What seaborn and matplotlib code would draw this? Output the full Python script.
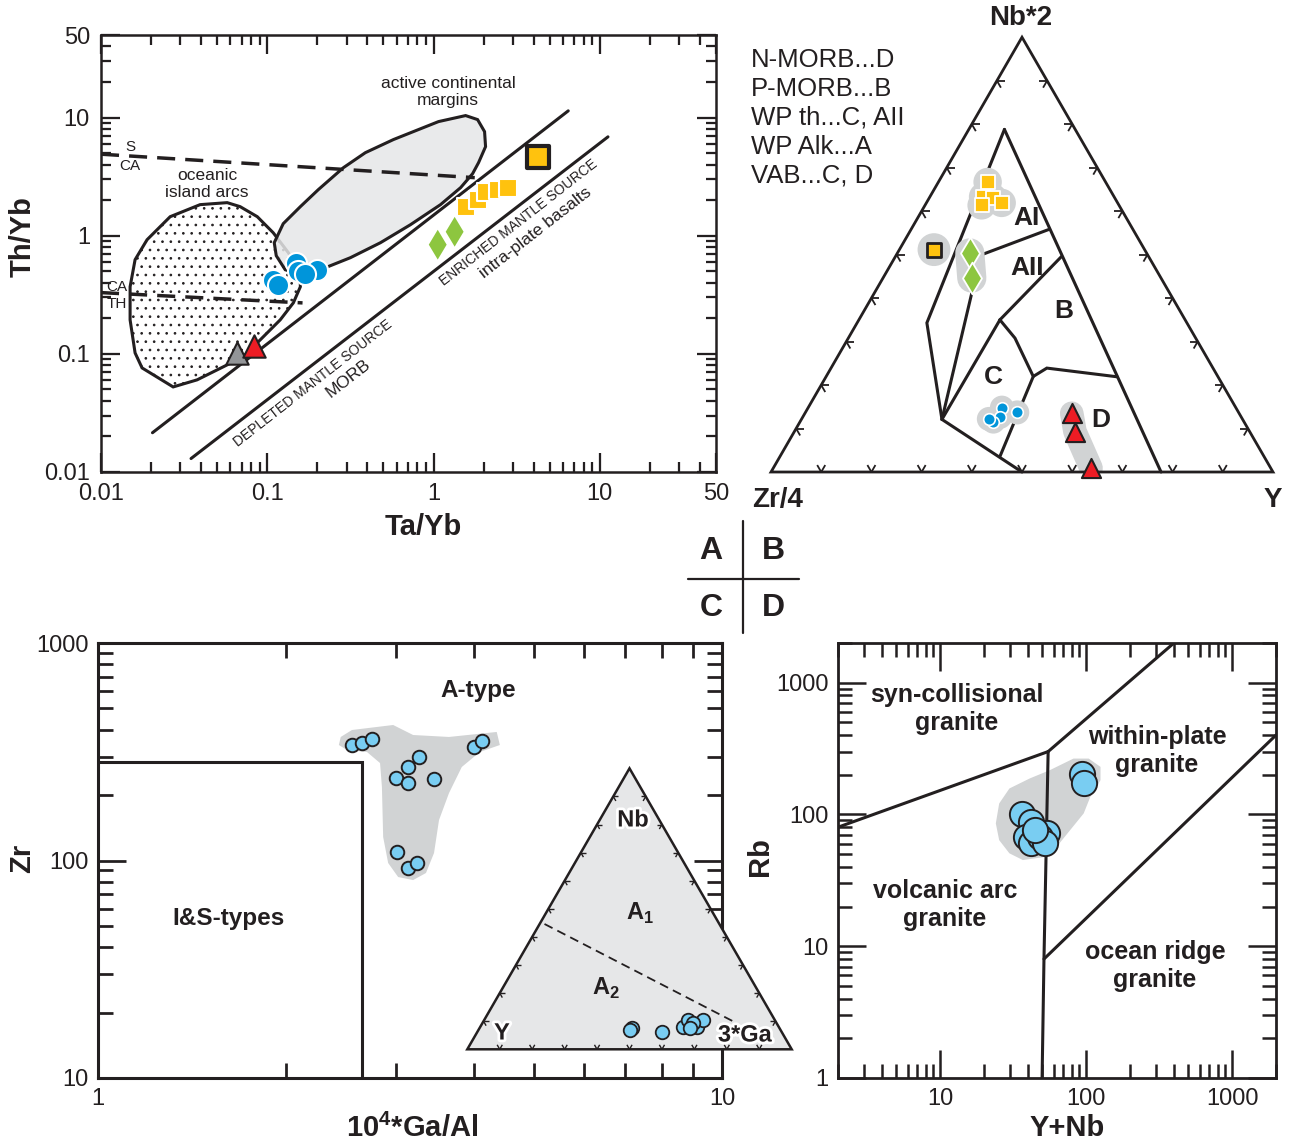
import numpy as np
import matplotlib
matplotlib.use('Agg')
import matplotlib.pyplot as plt
import seaborn as sns
from matplotlib.patches import Polygon
from matplotlib.lines import Line2D
import matplotlib.patheffects as pe
from matplotlib.ticker import LogLocator, NullFormatter, FixedLocator, FixedFormatter

sns.set_style('ticks')
plt.rcParams['font.family'] = ['Liberation Sans', 'DejaVu Sans']
plt.rcParams['mathtext.fontset'] = 'custom'
plt.rcParams['mathtext.rm'] = 'Liberation Sans'
plt.rcParams['mathtext.bf'] = 'Liberation Sans:bold'
plt.rcParams['hatch.linewidth'] = 0.7

# ------------------------------------------------------------------ DATA
# Panel A : Th/Yb vs Ta/Yb
a_blue_ta = [0.148, 0.109, 0.116, 0.154, 0.200, 0.169]
a_blue_th = [0.59, 0.42, 0.385, 0.50, 0.51, 0.47]
a_yel_ta = [1.56, 1.84, 2.06, 2.43, 2.79]
a_yel_th = [1.76, 2.02, 2.36, 2.45, 2.55]
a_yelbig_ta = [4.24]
a_yelbig_th = [4.67]
a_grn_ta = [1.06, 1.34]
a_grn_th = [0.84, 1.08]
a_red_ta = [0.0836]
a_red_th = [0.117]
a_gry_ta = [0.066]
a_gry_th = [0.102]
# field outlines (log10 units)
a_arc_lx = [-1.241, -1.404, -1.584, -1.723, -1.795, -1.825, -1.825, -1.795, -1.753, -1.566, -1.422,
            -1.265, -1.145, -1.042, -0.922, -0.843, -0.801, -0.801, -0.873, -0.964, -1.060, -1.163]
a_arc_ly = [0.280, 0.263, 0.161, -0.034, -0.203, -0.432, -0.712, -0.992, -1.119, -1.280, -1.220,
            -1.110, -1.025, -0.881, -0.712, -0.568, -0.432, -0.314, -0.144, 0.025, 0.161, 0.246]
a_acm_lx = [-0.946, -0.958, -0.904, -0.801, -0.693, -0.542, -0.410, -0.241, 0.030, 0.193, 0.265, 0.307,
            0.313, 0.271, 0.235, 0.163, 0.042, -0.139, -0.319, -0.500, -0.651, -0.801, -0.892]
a_acm_ly = [-0.169, -0.059, 0.102, 0.246, 0.390, 0.576, 0.703, 0.814, 0.966, 1.017, 0.983, 0.881,
            0.754, 0.619, 0.525, 0.407, 0.263, 0.093, -0.059, -0.186, -0.271, -0.331, -0.288]
a_up_ta = [0.0204, 6.46]
a_up_th = [0.0215, 11.4]
a_lo_ta = [0.0348, 11.2]
a_lo_th = [0.0130, 6.87]
a_sca_ta = [0.01, 1.77]
a_sca_th = [4.9, 3.1]
a_cath_ta = [0.01, 0.163]
a_cath_th = [0.33, 0.27]

# Panel B : Nb*2 - Zr/4 - Y ternary (percent)
b_left_nb = [78.8, 34.3, 12.1, 0.0]
b_left_zr = [14.1, 51.8, 59.9, 50.0]
b_left_y = [7.1, 13.9, 28.0, 50.0]
b_right_nb = [78.8, 0.0]
b_right_zr = [14.1, 22.3]
b_right_y = [7.1, 77.7]
b_ai_nb = [55.8, 50.0, 47.3, 12.1]
b_ai_zr = [16.9, 33.0, 35.1, 59.9]
b_ai_y = [27.4, 17.0, 17.6, 28.0]
b_aiib_nb = [49.6, 35.0]
b_aiib_zr = [17.3, 36.9]
b_aiib_y = [33.1, 28.1]
b_cl_nb = [35.0, 12.1]
b_cl_zr = [36.9, 59.9]
b_cl_y = [28.1, 28.0]
b_cr_nb = [35.0, 30.8, 22.0, 3.7]
b_cr_zr = [36.9, 36.0, 36.8, 52.5]
b_cr_y = [28.1, 33.2, 41.3, 43.8]
b_bd_nb = [22.0, 23.9, 21.9]
b_bd_zr = [36.8, 33.1, 20.1]
b_bd_y = [41.3, 43.0, 58.0]
b_yel_nb = [66.7, 63.3, 63.1, 61.9, 61.4]
b_yel_zr = [23.5, 26.1, 24.3, 23.1, 27.4]
b_yel_y = [9.8, 10.6, 12.6, 15.0, 11.3]
b_yelbig_nb = [51.2]
b_yelbig_zr = [42.0]
b_yelbig_y = [6.9]
b_grn_nb = [50.4, 44.6]
b_grn_zr = [35.2, 37.7]
b_grn_y = [14.4, 17.7]
b_blue_nb = [14.8, 12.7, 13.7, 11.6, 12.2]
b_blue_zr = [46.6, 48.0, 44.1, 49.9, 50.5]
b_blue_y = [38.6, 39.3, 42.2, 38.5, 37.3]
b_red_nb = [13.5, 9.3, 0.9]
b_red_zr = [33.3, 34.8, 35.8]
b_red_y = [53.1, 55.9, 63.3]
b_legend = ['N-MORB...D', 'P-MORB...B', 'WP th...C, AII', 'WP Alk...A', 'VAB...C, D']

# Panel C : Zr vs 10^4*Ga/Al
c_gaal = [2.55, 2.65, 2.75, 3.27, 3.14, 3.00, 3.14, 3.46, 4.01, 4.13, 3.01, 3.14, 3.25]
c_zr = [340, 346, 362, 298, 270, 240, 228, 236, 334, 355, 109, 92, 97]
c_box_gaal = 2.65
c_box_zr = 284
c_field_lx = [0.389, 0.407, 0.473, 0.505, 0.5625, 0.639, 0.644, 0.612, 0.583, 0.5625, 0.5465, 0.5385,
              0.5256, 0.505, 0.481, 0.465, 0.457, 0.455, 0.452, 0.431, 0.399, 0.386]
c_field_ly = [2.568, 2.600, 2.623, 2.577, 2.568, 2.591, 2.531, 2.499, 2.430, 2.310, 2.186, 2.0345,
              1.9425, 1.910, 1.924, 1.9885, 2.108, 2.338, 2.448, 2.499, 2.508, 2.531]
# inset ternary Nb - Y - 3*Ga (percent)
i_nb = [7.5, 6.9, 6.3, 8.1, 10.5, 8.1, 10.5, 9.3, 7.5]
i_y = [45.6, 46.2, 36.9, 29.4, 26.6, 25.2, 22.2, 25.7, 27.6]
i_ga = [46.9, 46.8, 56.8, 62.5, 62.9, 66.7, 67.3, 65.0, 64.9]
i_div_nb = [44.6, 9.3]
i_div_y = [53.9, 12.3]
i_div_ga = [1.5, 78.4]

# Panel D : Rb vs Y+Nb
d_ynb = [93.8, 97.3, 36.5, 42.2, 53.6, 38.9, 42.2, 48.2, 52.3, 45.0]
d_rb = [202, 172, 100, 87.4, 71.8, 67.6, 60.3, 66.9, 60.3, 76]
d_l1_x, d_l1_y = [2, 55], [80, 300]
d_l2_x, d_l2_y = [55, 400], [300, 2000]
d_l3_x, d_l3_y = [55, 51.5, 50], [300, 8, 1]
d_l4_x, d_l4_y = [51.5, 2000], [8, 400]
d_field_lx = [1.405, 1.475, 1.614, 1.752, 1.914, 2.018, 2.099, 2.099, 2.029, 1.984, 1.891, 1.799,
              1.729, 1.567, 1.475, 1.405, 1.382]
d_field_ly = [2.083, 2.197, 2.273, 2.336, 2.424, 2.424, 2.361, 2.260, 2.133, 2.008, 1.881, 1.755,
              1.679, 1.654, 1.705, 1.805, 1.932]

# ------------------------------------------------------------------ STYLE
K = '#231F20'
GRAYF = '#E6E7E8'
GRAYH = '#D1D3D4'
BLUE = '#0095DA'
LBLUE = '#79CDF2'
YEL = '#FFC20E'
GRN = '#8DC63F'
RED = '#ED1C24'
GTRI = '#939598'

W, H = 1290, 1143
fig = plt.figure(figsize=(W / 100, H / 100), dpi=100)


def rect(l, t, r, b):
    return [l / W, 1 - b / H, (r - l) / W, (b - t) / H]


def ftext(x, y, s, **kw):
    kw.setdefault('ha', 'center')
    kw.setdefault('va', 'center')
    kw.setdefault('color', K)
    fig.text(x / W, 1 - y / H, s, **kw)


SQ3 = np.sqrt(3) / 2


def tern(top, left, right):
    top = np.asarray(top, float)
    left = np.asarray(left, float)
    right = np.asarray(right, float)
    s = top + left + right
    return right / s + top / s / 2, top / s * SQ3


def tern_ticks(ax, L, lw):
    for i in range(1, 10):
        f = i / 10
        for (x0, y0), angs in [((f, 0.0), (60, 120)),
                               ((f / 2, f * SQ3), (0, -60)),
                               ((1 - f / 2, f * SQ3), (180, 240))]:
            for a in angs:
                r = np.deg2rad(a)
                ax.plot([x0, x0 + L * np.cos(r)], [y0, y0 + L * np.sin(r)],
                        color=K, lw=lw, solid_capstyle='butt', zorder=3)


def style_log(ax, xlim, ylim, xmaj, xlab, ymaj, ylab, majlen, minlen, lw, pad):
    ax.set_xscale('log')
    ax.set_yscale('log')
    ax.set_xlim(*xlim)
    ax.set_ylim(*ylim)
    ax.xaxis.set_major_locator(FixedLocator(xmaj))
    ax.xaxis.set_major_formatter(FixedFormatter(xlab))
    ax.yaxis.set_major_locator(FixedLocator(ymaj))
    ax.yaxis.set_major_formatter(FixedFormatter(ylab))
    for axis in (ax.xaxis, ax.yaxis):
        axis.set_minor_locator(LogLocator(base=10, subs=np.arange(2, 10), numticks=20))
        axis.set_minor_formatter(NullFormatter())
    ax.tick_params(which='both', direction='in', top=True, right=True, width=lw * 0.9,
                   color=K, labelsize=17, labelcolor=K, pad=pad)
    ax.tick_params(which='major', length=majlen)
    ax.tick_params(which='minor', length=minlen)
    for sp in ax.spines.values():
        sp.set_linewidth(lw)
        sp.set_color(K)
    ax.set_xlabel('')
    ax.set_ylabel('')


# ------------------------------------------------------------------ PANEL A
axA = fig.add_axes(rect(101, 35, 716, 472))
axA.set_xscale('log')
axA.set_yscale('log')
arc = Polygon(np.column_stack([10 ** np.array(a_arc_lx), 10 ** np.array(a_arc_ly)]), closed=True,
              facecolor='white', edgecolor=K, lw=2.2, hatch='..', zorder=1)
axA.add_patch(arc)
acm_xy = np.column_stack([10 ** np.array(a_acm_lx), 10 ** np.array(a_acm_ly)])
axA.add_patch(Polygon(acm_xy, closed=True, facecolor=GRAYF, edgecolor='none', alpha=0.85, zorder=2))
axA.add_patch(Polygon(acm_xy, closed=True, fill=False, edgecolor=K, lw=2.2, zorder=3))
axA.plot(a_up_ta, a_up_th, color=K, lw=2.2, zorder=3)
axA.plot(a_lo_ta, a_lo_th, color=K, lw=2.2, zorder=3)
axA.plot(a_sca_ta, a_sca_th, color=K, lw=2.5, ls=(0, (5.2, 2.9)), zorder=3)
axA.plot(a_cath_ta, a_cath_th, color=K, lw=2.5, ls=(0, (5.2, 2.9)), zorder=3)

sns.scatterplot(x=a_gry_ta, y=a_gry_th, ax=axA, marker='^', s=260, color=GTRI, edgecolor=K, linewidth=1.5, zorder=5)
sns.scatterplot(x=a_red_ta, y=a_red_th, ax=axA, marker='^', s=260, color=RED, edgecolor=K, linewidth=1.5, zorder=5)
sns.scatterplot(x=a_blue_ta, y=a_blue_th, ax=axA, marker='o', s=230, color=BLUE, edgecolor='white', linewidth=1.5, zorder=5)
sns.scatterplot(x=a_yel_ta, y=a_yel_th, ax=axA, marker='s', s=160, color=YEL, edgecolor='white', linewidth=1.5, zorder=5)
sns.scatterplot(x=a_yelbig_ta, y=a_yelbig_th, ax=axA, marker='s', s=250, color=YEL, edgecolor=K, linewidth=3.0, zorder=5)
sns.scatterplot(x=a_grn_ta, y=a_grn_th, ax=axA, marker='d', s=230, color=GRN, edgecolor='none', linewidth=0, zorder=5)

style_log(axA, (0.01, 50), (0.01, 50), [0.01, 0.1, 1, 10, 50], ['0.01', '0.1', '1', '10', '50'],
          [0.01, 0.1, 1, 10, 50], ['0.01', '0.1', '1', '10', '50'], 14, 7, 1.8, 8)
axA.text(-0.128, 0.538, 'Th/Yb', transform=axA.transAxes, rotation=90, ha='center', va='center',
         fontsize=21, fontweight='bold', color=K)
axA.text(0.524, -0.126, 'Ta/Yb', transform=axA.transAxes, ha='center', va='center',
         fontsize=21, fontweight='bold', color=K)
ftext(207, 184, 'oceanic\nisland arcs', fontsize=12.5, linespacing=1.2)
ftext(448, 92, 'active continental\nmargins', fontsize=12.5, linespacing=1.25)
ftext(130, 147, 'S', fontsize=11)
ftext(130, 166, 'CA', fontsize=11)
ftext(117, 287, 'CA', fontsize=11)
ftext(117, 304, 'TH', fontsize=11)
ftext(313, 383, 'DEPLETED MANTLE SOURCE', fontsize=10, rotation=38)
ftext(348, 378, 'MORB', fontsize=12.5, rotation=38)
ftext(519, 223, 'ENRICHED MANTLE SOURCE', fontsize=10, rotation=38)
ftext(536, 233, 'intra-plate basalts', fontsize=12.5, rotation=38)

# ------------------------------------------------------------------ PANEL B
axB = fig.add_axes(rect(740, 0, 1290, 520))
axB.set_xlim(-0.0618, 1.0339)
axB.set_ylim(-0.0956, 0.9402)
axB.axis('off')
tri = Polygon([[0, 0], [1, 0], [0.5, SQ3]], closed=True, fill=False, edgecolor=K, lw=2.0, zorder=3)
axB.add_patch(tri)
tern_ticks(axB, 0.016, 1.3)
for nb, zr, yy in [(b_left_nb, b_left_zr, b_left_y), (b_right_nb, b_right_zr, b_right_y),
                   (b_ai_nb, b_ai_zr, b_ai_y), (b_aiib_nb, b_aiib_zr, b_aiib_y),
                   (b_cl_nb, b_cl_zr, b_cl_y), (b_cr_nb, b_cr_zr, b_cr_y), (b_bd_nb, b_bd_zr, b_bd_y)]:
    x, y = tern(nb, zr, yy)
    axB.plot(x, y, color=K, lw=2.2, zorder=3, solid_joinstyle='miter')

# halos
x, y = tern(b_yel_nb, b_yel_zr, b_yel_y)
sns.scatterplot(x=x, y=y, ax=axB, marker='o', s=420, color=GRAYH, edgecolor='none', linewidth=0, zorder=4)
xb, yb = tern(b_yelbig_nb, b_yelbig_zr, b_yelbig_y)
sns.scatterplot(x=xb, y=yb, ax=axB, marker='o', s=560, color=GRAYH, edgecolor='none', linewidth=0, zorder=4)
xg, yg = tern(b_grn_nb, b_grn_zr, b_grn_y)
axB.plot(xg, yg, color=GRAYH, lw=21, solid_capstyle='round', zorder=4)
xc, yc = tern(b_blue_nb, b_blue_zr, b_blue_y)
sns.scatterplot(x=xc, y=yc, ax=axB, marker='o', s=300, color=GRAYH, edgecolor='none', linewidth=0, zorder=4)
xr, yr = tern(b_red_nb, b_red_zr, b_red_y)
band, = axB.plot(xr, yr, color=GRAYH, lw=17, solid_capstyle='round', zorder=2)
band.set_clip_path(Polygon([[0, 0], [1, 0], [0.5, SQ3]], closed=True, transform=axB.transData))

sns.scatterplot(x=x, y=y, ax=axB, marker='s', s=110, color=YEL, edgecolor='white', linewidth=1.3, zorder=5)
sns.scatterplot(x=xb, y=yb, ax=axB, marker='s', s=110, color=YEL, edgecolor=K, linewidth=2.0, zorder=5)
sns.scatterplot(x=xg, y=yg, ax=axB, marker='d', s=260, color=GRN, edgecolor='white', linewidth=1.3, zorder=5)
sns.scatterplot(x=xc, y=yc, ax=axB, marker='o', s=70, color=BLUE, edgecolor='white', linewidth=1.2, zorder=5)
sns.scatterplot(x=xr, y=yr, ax=axB, marker='^', s=190, color=RED, edgecolor=K, linewidth=1.5, zorder=5)

ftext(1021, 18, 'Nb*2', fontsize=20, fontweight='bold')
ftext(778, 500, 'Zr/4', fontsize=20, fontweight='bold')
ftext(1273, 500, 'Y', fontsize=20, fontweight='bold')
for i, s in enumerate(b_legend):
    ftext(751, 60 + i * 29, s, fontsize=18.5, ha='left')
ftext(1026, 218, 'AI', fontsize=19, fontweight='bold')
ftext(1027, 268, 'AII', fontsize=19, fontweight='bold')
ftext(1064, 311, 'B', fontsize=19, fontweight='bold')
ftext(993, 377, 'C', fontsize=19, fontweight='bold')
ftext(1101, 420, 'D', fontsize=19, fontweight='bold')

# ------------------------------------------------------------------ CENTER KEY
ftext(711, 551, 'A', fontsize=23, fontweight='bold')
ftext(773, 551, 'B', fontsize=23, fontweight='bold')
ftext(711, 608, 'C', fontsize=23, fontweight='bold')
ftext(773, 608, 'D', fontsize=23, fontweight='bold')
fig.add_artist(Line2D([743 / W, 743 / W], [1 - 521 / H, 1 - 633 / H], color=K, lw=1.6))
fig.add_artist(Line2D([688 / W, 799 / W], [1 - 579 / H, 1 - 579 / H], color=K, lw=1.6))

# ------------------------------------------------------------------ PANEL C
axC = fig.add_axes(rect(98, 643, 722, 1078))
axC.set_xscale('log')
axC.set_yscale('log')
axC.add_patch(Polygon(np.column_stack([10 ** np.array(c_field_lx), 10 ** np.array(c_field_ly)]),
                      closed=True, facecolor=GRAYH, edgecolor='none', zorder=1))
axC.plot([1, c_box_gaal, c_box_gaal], [c_box_zr, c_box_zr, 10], color=K, lw=2.2, zorder=2,
         solid_joinstyle='miter')
sns.scatterplot(x=c_gaal, y=c_zr, ax=axC, marker='o', s=95, color=LBLUE, edgecolor=K, linewidth=1.4, zorder=4)
style_log(axC, (1, 10), (10, 1000), [1, 10], ['1', '10'], [10, 100, 1000], ['10', '100', '1000'],
          20, 11, 2.2, 7)
axC.text(-0.122, 0.506, 'Zr', transform=axC.transAxes, rotation=90, ha='center', va='center',
         fontsize=21, fontweight='bold', color=K)
axC.text(0.503, -0.115, '10$^{\\mathbf{4}}$*Ga/Al', transform=axC.transAxes, ha='center', va='center',
         fontsize=21, fontweight='bold', color=K)
ftext(478, 690, 'A-type', fontsize=17.5, fontweight='bold')
ftext(229, 918, 'I&S-types', fontsize=17.5, fontweight='bold')

# inset ternary
axI = fig.add_axes(rect(460, 760, 800, 1060), zorder=5)
axI.set_xlim(-0.0225, 1.0256)
axI.set_ylim(-0.033, 0.8918)
axI.axis('off')
axI.patch.set_alpha(0)
axI.add_patch(Polygon([[0, 0], [1, 0], [0.5, SQ3]], closed=True, facecolor=GRAYF, edgecolor=K, lw=1.8, zorder=1))
tern_ticks(axI, 0.016, 1.0)
xd, yd = tern(i_div_nb, i_div_y, i_div_ga)
axI.plot(xd, yd, color=K, lw=1.3, ls=(0, (5, 3)), zorder=2)
xi, yi = tern(i_nb, i_y, i_ga)
sns.scatterplot(x=xi, y=yi, ax=axI, marker='o', s=95, color=LBLUE, edgecolor=K, linewidth=1.3, zorder=4)
halo = [pe.withStroke(linewidth=4, foreground='white')]
ftext(633, 820, 'Nb', fontsize=17, fontweight='bold', path_effects=halo, zorder=10)
ftext(502, 1033, 'Y', fontsize=17, fontweight='bold', path_effects=halo, zorder=10)
ftext(745, 1035, '3*Ga', fontsize=17, fontweight='bold', path_effects=halo, zorder=10)
ftext(640, 913, 'A$_{\\mathbf{1}}$', fontsize=17, fontweight='bold', zorder=10)
ftext(606, 988, 'A$_{\\mathbf{2}}$', fontsize=17, fontweight='bold', zorder=10)

# ------------------------------------------------------------------ PANEL D
axD = fig.add_axes(rect(838, 643, 1276, 1078))
axD.set_xscale('log')
axD.set_yscale('log')
axD.add_patch(Polygon(np.column_stack([10 ** np.array(d_field_lx), 10 ** np.array(d_field_ly)]),
                      closed=True, facecolor=GRAYH, edgecolor='none', zorder=1))
for xs, ys in [(d_l1_x, d_l1_y), (d_l2_x, d_l2_y), (d_l3_x, d_l3_y), (d_l4_x, d_l4_y)]:
    axD.plot(xs, ys, color=K, lw=2.2, zorder=2)
sns.scatterplot(x=d_ynb, y=d_rb, ax=axD, marker='o', s=330, color=LBLUE, edgecolor=K, linewidth=1.4, zorder=4)
style_log(axD, (2, 2000), (1, 2000), [10, 100, 1000], ['10', '100', '1000'],
          [1, 10, 100, 1000], ['1', '10', '100', '1000'], 20, 10, 2.0, 7)
axD.text(-0.178, 0.508, 'Rb', transform=axD.transAxes, rotation=90, ha='center', va='center',
         fontsize=21, fontweight='bold', color=K)
axD.text(0.523, -0.115, 'Y+Nb', transform=axD.transAxes, ha='center', va='center',
         fontsize=21, fontweight='bold', color=K)
ftext(957, 709, 'syn-collisional\ngranite', fontsize=18, fontweight='bold', linespacing=1.25)
ftext(1157, 751, 'within-plate\ngranite', fontsize=18, fontweight='bold', linespacing=1.25)
ftext(945, 905, 'volcanic arc\ngranite', fontsize=18, fontweight='bold', linespacing=1.25)
ftext(1155, 966, 'ocean ridge\ngranite', fontsize=18, fontweight='bold', linespacing=1.25)

fig.savefig('out.png', dpi=100)
